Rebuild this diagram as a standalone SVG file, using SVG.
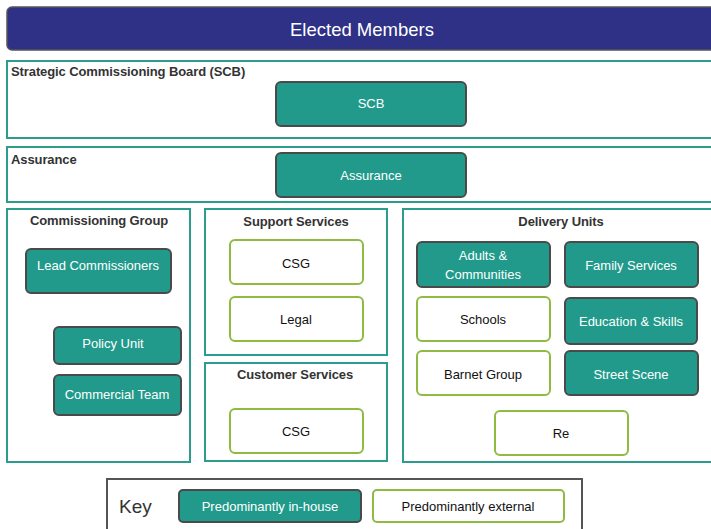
<svg xmlns="http://www.w3.org/2000/svg" width="711" height="529" viewBox="0 0 711 529">
<style>
text{font-family:"Liberation Sans",Arial,sans-serif;}
.box{fill:#fff;stroke:#2a9d8f;stroke-width:2;}
.title{font-size:13px;font-weight:bold;fill:#333;letter-spacing:-0.1px;}
.in{fill:#219a8b;stroke:#4a4a4a;stroke-width:2;}
.ex{fill:#fff;stroke:#8fba44;stroke-width:2;}
.tin{font-size:13px;fill:#fff;text-anchor:middle;}
.tex{font-size:13px;fill:#111;text-anchor:middle;}
</style>
<rect width="711" height="529" fill="#fff"/>
<g id="elected">
<rect x="7" y="7" width="714" height="43" rx="5" fill="#2e3186" stroke="#555" stroke-width="1.5"/>
<text x="362" y="36" font-size="18.5" fill="#fff" text-anchor="middle">Elected Members</text>
</g>
<g id="scb-board">
<rect class="box" x="7" y="61" width="714" height="77"/>
<text class="title" x="11" y="76">Strategic Commissioning Board (SCB)</text>
</g>
<g id="scb"><rect class="in" x="276" y="82" width="190" height="44" rx="5"/><text class="tin" x="371" y="108">SCB</text></g>
<g id="assurance-group">
<rect class="box" x="7" y="147" width="714" height="55"/>
<text class="title" x="11" y="164">Assurance</text>
</g>
<g id="assurance"><rect class="in" x="276" y="153" width="190" height="44" rx="5"/><text class="tin" x="371" y="180">Assurance</text></g>

<g id="commissioning-group">
<rect class="box" x="7" y="209" width="183" height="253"/>
<text class="title" x="99" y="225" text-anchor="middle">Commissioning Group</text>
</g>
<g id="lead-commissioners"><rect class="in" x="26" y="249" width="145" height="44" rx="5"/><text class="tin" x="98" y="270">Lead Commissioners</text></g>
<g id="policy-unit"><rect class="in" x="54" y="327" width="127" height="37" rx="5"/><text class="tin" x="113" y="348">Policy Unit</text></g>
<g id="commercial-team"><rect class="in" x="54" y="375" width="127" height="40" rx="5"/><text class="tin" x="117" y="399">Commercial Team</text></g>

<g id="support-services">
<rect class="box" x="205" y="209" width="182" height="146"/>
<text class="title" x="296" y="226" text-anchor="middle">Support Services</text>
</g>
<g id="csg-support"><rect class="ex" x="230" y="240" width="133" height="44" rx="5"/><text class="tex" x="296" y="268">CSG</text></g>
<g id="legal"><rect class="ex" x="230" y="297" width="133" height="44" rx="5"/><text class="tex" x="296" y="324">Legal</text></g>

<g id="customer-services">
<rect class="box" x="205" y="363" width="182" height="98"/>
<text class="title" x="295" y="379" text-anchor="middle">Customer Services</text>
</g>
<g id="csg-customer"><rect class="ex" x="230" y="409" width="133" height="44" rx="5"/><text class="tex" x="296" y="436">CSG</text></g>

<g id="delivery-units">
<rect class="box" x="403" y="209" width="318" height="253"/>
<text class="title" x="561" y="226" text-anchor="middle">Delivery Units</text>
</g>
<g id="adults"><rect class="in" x="417" y="242" width="133" height="45" rx="5"/><text class="tin" x="483" y="260">Adults &amp;</text><text class="tin" x="483" y="279">Communities</text></g>
<g id="family-services"><rect class="in" x="565" y="242" width="133" height="45" rx="5"/><text class="tin" x="631" y="270">Family Services</text></g>
<g id="schools"><rect class="ex" x="417" y="297" width="133" height="44" rx="5"/><text class="tex" x="483" y="324">Schools</text></g>
<g id="education-skills"><rect class="in" x="565" y="298" width="132" height="46" rx="5"/><text class="tin" x="631" y="326">Education &amp; Skills</text></g>
<g id="barnet-group"><rect class="ex" x="417" y="351" width="133" height="44" rx="5"/><text class="tex" x="483" y="379">Barnet Group</text></g>
<g id="street-scene"><rect class="in" x="565" y="351" width="133" height="44" rx="5"/><text class="tin" x="631" y="379">Street Scene</text></g>
<g id="re"><rect class="ex" x="495" y="411" width="133" height="44" rx="5"/><text class="tex" x="561" y="438">Re</text></g>

<g id="key">
<rect x="107" y="479" width="475" height="60" fill="#fff" stroke="#555" stroke-width="2"/>
<text x="119" y="513" font-size="19" fill="#333">Key</text>
<rect class="in" x="179" y="490" width="182" height="32" rx="4"/>
<text class="tin" x="270" y="511">Predominantly in-house</text>
<rect class="ex" x="373" y="490" width="191" height="32" rx="4"/>
<text class="tex" x="468" y="511">Predominantly external</text>
</g>
<g id="connectors"></g>
</svg>
